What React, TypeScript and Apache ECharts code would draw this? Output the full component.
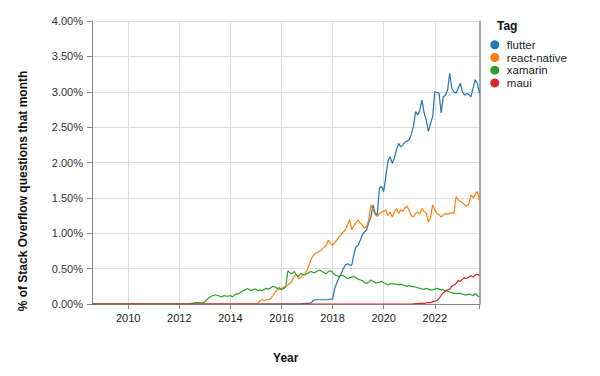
import React, { useEffect, useRef } from "react";
import * as echarts from "echarts";

// Monthly categories: 2008-08 .. 2023-10
const START_YEAR = 2008;
const START_MONTH = 8;
const MONTH_COUNT = 183;
const months: string[] = [];
for (let k = 0; k < MONTH_COUNT; k++) {
  const m = START_MONTH - 1 + k;
  const y = START_YEAR + Math.floor(m / 12);
  const mm = (m % 12) + 1;
  months.push(`${y}-${mm < 10 ? "0" + mm : mm}`);
}

const yTickLabels = ["0.00%", "0.50%", "1.00%", "1.50%", "2.00%", "2.50%", "3.00%", "3.50%", "4.00%"];
const tags = ["flutter", "react-native", "xamarin", "maui"];
const colors = ["#1f77b4", "#ff7f0e", "#2ca02c", "#d62728"];

const zeros = (n: number) => new Array(n).fill(0);

// % of Stack Overflow questions per month
const flutter: number[] = [
  ...zeros(99),
  0.005, 0.01, 0.01, 0.01, 0.02, 0.05,
  0.06, 0.06, 0.06, 0.06, 0.06, 0.06, 0.06, 0.07, 0.07,
  0.22, 0.30, 0.37, 0.42, 0.50, 0.55, 0.57, 0.55, 0.55, 0.70, 0.81,
  0.83, 0.90, 0.98, 1.02, 1.05, 1.15, 1.23, 1.40, 1.28, 1.26, 1.64, 1.66,
  1.59, 1.80, 2.02, 2.08, 1.99, 2.06, 2.18, 2.27, 2.22, 2.25, 2.29, 2.30,
  2.32, 2.40, 2.51, 2.72, 2.67, 2.74, 2.88, 2.70, 2.60, 2.44, 2.55, 2.65,
  3.00, 2.99, 2.98, 2.70, 2.93, 2.95, 3.02, 3.26, 3.05, 3.00, 2.98, 3.05,
  3.12, 3.00, 2.95, 2.98, 2.96, 2.93, 3.05, 3.17, 3.12, 2.98,
];

const reactNative: number[] = [
  ...zeros(78),
  0.01, 0.05, 0.06, 0.05, 0.06, 0.06, 0.08, 0.12, 0.17, 0.20, 0.21,
  0.22, 0.24, 0.25, 0.27, 0.29, 0.33, 0.39, 0.42, 0.36, 0.37, 0.40, 0.43,
  0.48, 0.55, 0.64, 0.69, 0.72, 0.73, 0.75, 0.77, 0.80, 0.83, 0.90, 0.86,
  0.83, 0.87, 0.90, 0.95, 0.98, 1.02, 1.05, 1.12, 1.19, 1.05, 1.10, 1.15,
  1.19, 1.14, 1.12, 1.07, 1.10, 1.19, 1.40, 1.33, 1.26, 1.24, 1.28, 1.30,
  1.31, 1.33, 1.25, 1.30, 1.23, 1.30, 1.35, 1.28, 1.33, 1.31, 1.36, 1.38,
  1.32, 1.25, 1.23, 1.28, 1.30, 1.27, 1.35, 1.31, 1.28, 1.16, 1.22, 1.40,
  1.33, 1.28, 1.26, 1.23, 1.26, 1.28, 1.27, 1.28, 1.29, 1.28, 1.52, 1.47,
  1.45, 1.43, 1.40, 1.38, 1.42, 1.54, 1.50, 1.55, 1.59, 1.46,
];

const xamarin: number[] = [
  ...zeros(47),
  0.01, 0.015, 0.02, 0.02, 0.015, 0.02,
  0.03, 0.06, 0.09, 0.11, 0.12, 0.13, 0.12, 0.11, 0.10, 0.12, 0.11, 0.11,
  0.12, 0.10, 0.13, 0.14, 0.15, 0.17, 0.19, 0.20, 0.22, 0.20, 0.19, 0.21,
  0.21, 0.19, 0.20, 0.19, 0.21, 0.22, 0.21, 0.23, 0.25, 0.24, 0.22, 0.23,
  0.20, 0.22, 0.24, 0.47, 0.44, 0.43, 0.46, 0.41, 0.39, 0.43, 0.42, 0.41,
  0.43, 0.45, 0.46, 0.44, 0.45, 0.47, 0.48, 0.46, 0.44, 0.43, 0.46, 0.47,
  0.45, 0.41, 0.40, 0.39, 0.41, 0.40, 0.38, 0.36, 0.37, 0.38, 0.39, 0.37,
  0.35, 0.34, 0.33, 0.30, 0.29, 0.31, 0.34, 0.32, 0.30, 0.30, 0.31, 0.32,
  0.30, 0.29, 0.27, 0.28, 0.29, 0.28, 0.28, 0.27, 0.28, 0.27, 0.26, 0.25,
  0.26, 0.25, 0.245, 0.24, 0.23, 0.22, 0.21, 0.21, 0.22, 0.21, 0.20, 0.20,
  0.21, 0.22, 0.21, 0.20, 0.20, 0.19, 0.18, 0.17, 0.16, 0.15, 0.15, 0.15,
  0.15, 0.14, 0.13, 0.13, 0.14, 0.13, 0.12, 0.15, 0.12, 0.10,
];

const maui: number[] = [
  ...zeros(151),
  0.003, 0.005, 0.005, 0.008, 0.01, 0.01, 0.015, 0.02, 0.02, 0.03,
  0.04, 0.05, 0.08, 0.12, 0.16, 0.18, 0.20, 0.21, 0.25, 0.27, 0.29, 0.33,
  0.32, 0.35, 0.37, 0.36, 0.38, 0.40, 0.38, 0.41, 0.42, 0.40,
];

const seriesValues = [flutter, reactNative, xamarin, maui];

const FONT = "'Liberation Sans', Arial, Helvetica, sans-serif";

const isYearTick = (index: number, value: string) => {
  const [y, m] = value.split("-");
  return m === "01" && Number(y) % 2 === 0;
};

export default function App() {
  const ref = useRef<HTMLDivElement>(null);
  useEffect(() => {
    if (!ref.current) return;
    const chart = echarts.init(ref.current, undefined, { renderer: "svg" });
    chart.setOption({
      animation: false,
      backgroundColor: "#fff",
      textStyle: { fontFamily: FONT },
      grid: { left: 92, right: 120.5, top: 21, bottom: 72, containLabel: false },
      legend: {
        orient: "vertical",
        left: 490.3,
        top: 38.8,
        itemWidth: 14,
        itemHeight: 9,
        itemGap: 0.7,
        icon: "circle",
        padding: 0,
        textStyle: { fontFamily: FONT, fontSize: 11.5, color: "#222", lineHeight: 11, padding: [0, 0, 0, 0] },
        data: tags,
      },
      graphic: [
        {
          type: "text",
          left: 497,
          top: 20,
          style: { text: "Tag", font: `bold 12px ${FONT}`, fill: "#111" },
        },
        {
          type: "text",
          x: 23,
          y: 191,
          rotation: Math.PI / 2,
          style: {
            text: "% of Stack Overflow questions that month",
            font: `bold 12px ${FONT}`,
            fill: "#111",
            align: "center",
            verticalAlign: "middle",
          },
        },
      ],
      xAxis: {
        type: "category",
        data: months,
        boundaryGap: false,
        name: "Year",
        nameLocation: "middle",
        nameGap: 48,
        nameTextStyle: { fontFamily: FONT, fontSize: 12, fontWeight: "bold", color: "#111" },
        axisLine: { lineStyle: { color: "#888", width: 1 } },
        axisTick: {
          show: true,
          length: 5,
          interval: (i: number, v: string) => isYearTick(i, v) || i === MONTH_COUNT - 1,
          lineStyle: { color: "#888" },
        },
        axisLabel: {
          interval: isYearTick,
          formatter: (v: string) => v.split("-")[0],
          fontSize: 11,
          color: "#222",
          margin: 8,
          fontFamily: FONT,
        },
        splitLine: {
          show: true,
          interval: isYearTick,
          lineStyle: { color: "#ddd", width: 1 },
        },
      },
      yAxis: [
        {
          type: "value",
          min: 0,
          max: 4,
          interval: 0.5,
          axisLine: { show: true, lineStyle: { color: "#888", width: 1 } },
          axisTick: { show: true, length: 5, lineStyle: { color: "#888" } },
          axisLabel: {
            formatter: (v: number) => yTickLabels[Math.round(v / 0.5)],
            fontSize: 11,
            color: "#333",
            margin: 9,
            fontFamily: FONT,
          },
          splitLine: { show: true, lineStyle: { color: "#ddd", width: 1 } },
        },
        {
          type: "value",
          position: "right",
          min: 0,
          max: 4,
          interval: 0.5,
          axisLine: { show: true, lineStyle: { color: "#888", width: 1.5 } },
          axisTick: { show: false },
          axisLabel: { show: false },
          splitLine: { show: false },
        },
      ],
      series: tags.map((t, k) => ({
        name: t,
        type: "line",
        data: seriesValues[k],
        showSymbol: false,
        symbol: "circle",
        lineStyle: { width: 1.2, color: colors[k] },
        itemStyle: { color: colors[k] },
        z: 2 + k,
      })),
    });
    return () => chart.dispose();
  }, []);
  return (
    <div
      ref={ref}
      style={{ position: "fixed", left: 0, top: 0, width: 600, height: 376, background: "#fff" }}
    />
  );
}
